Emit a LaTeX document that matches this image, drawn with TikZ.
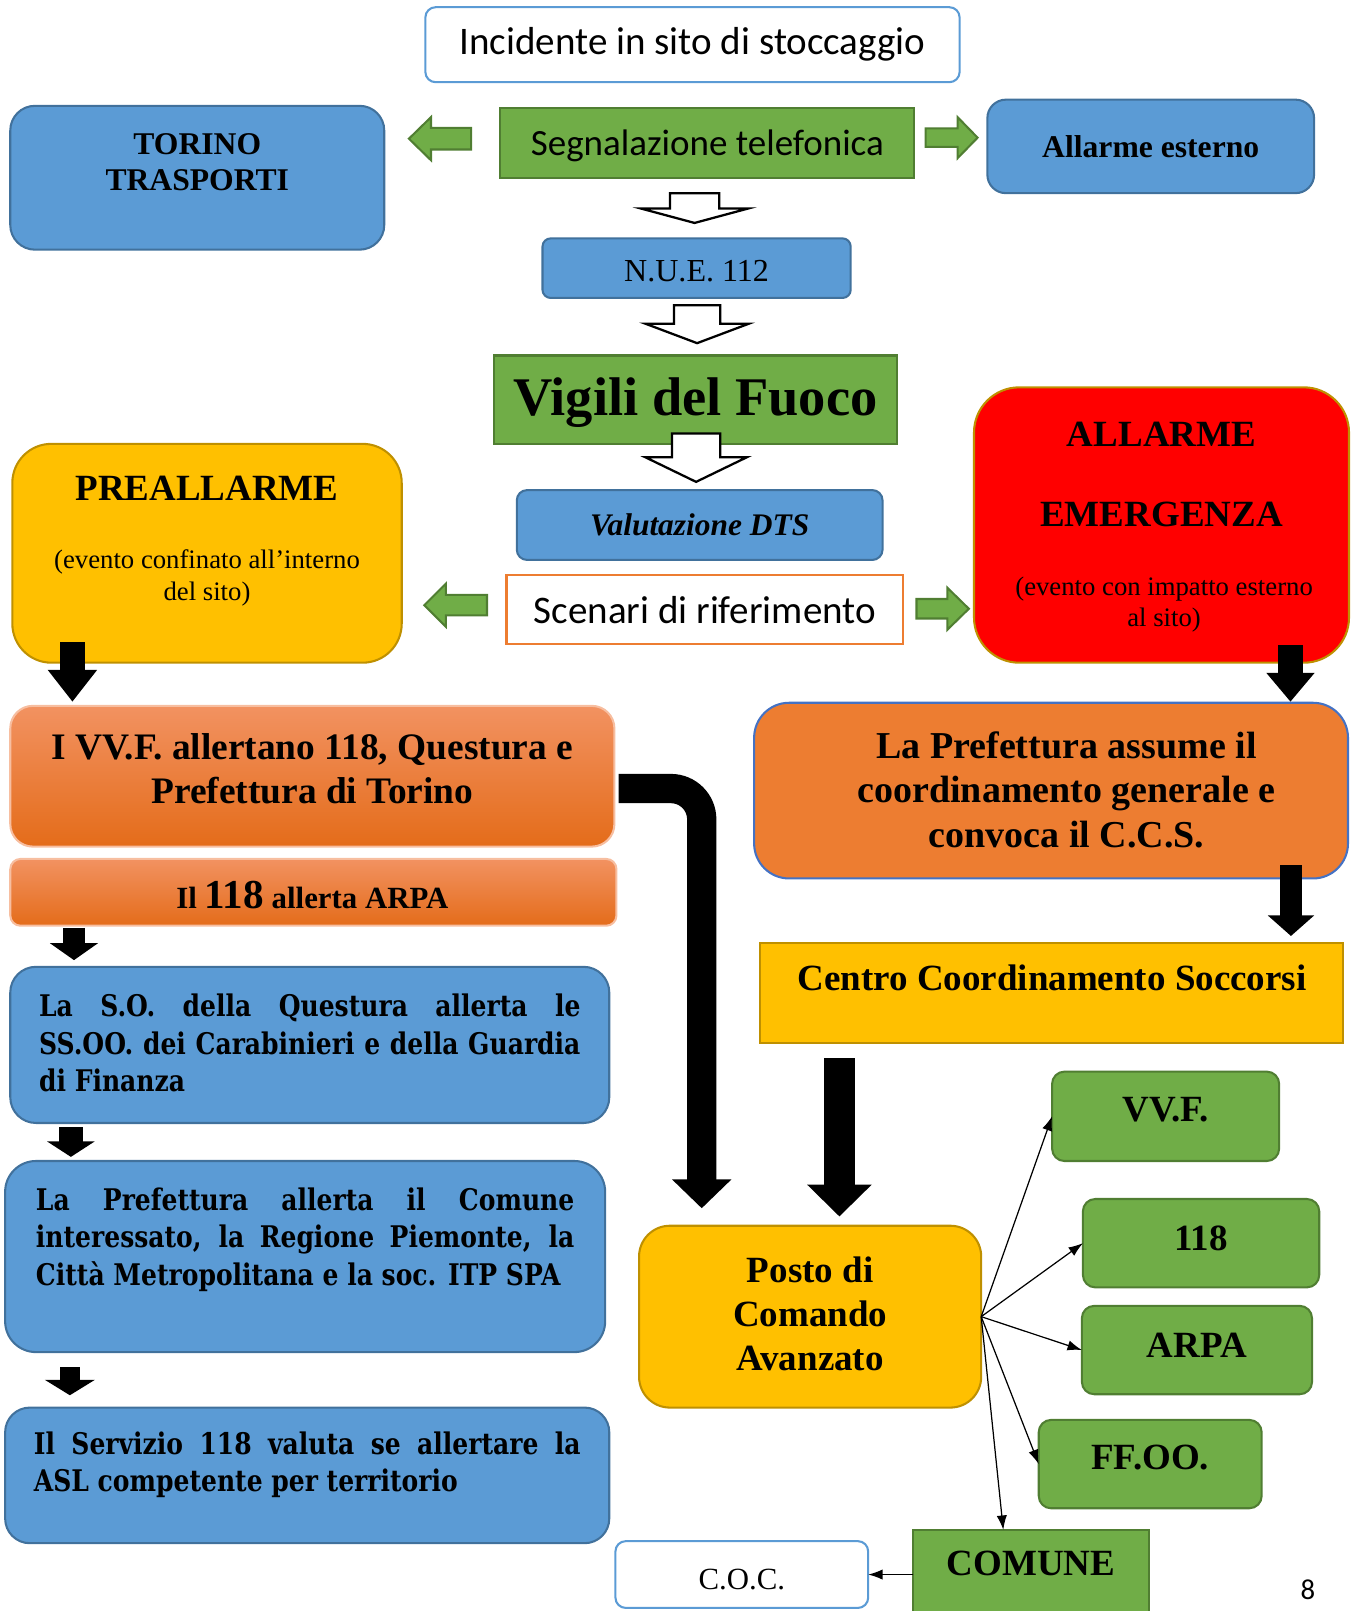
\documentclass[tikz,border=0pt]{standalone}
\usepackage{fontspec}
\setmainfont{Liberation Serif}
\newfontfamily\calfont{Carlito}
\newfontfamily\cmbfont[FakeStretch=0.84]{DejaVu Serif}
\usepackage{tikz}
\usetikzlibrary{calc}
\usetikzlibrary{arrows.meta}

\definecolor{bluefill}{HTML}{5B9BD5}
\definecolor{blueline}{HTML}{41719C}
\definecolor{greenfill}{HTML}{70AD47}
\definecolor{greenline}{HTML}{507E32}
\definecolor{yelfill}{HTML}{FFC000}
\definecolor{yelline}{HTML}{BF9000}
\definecolor{redfill}{HTML}{FF0000}
\definecolor{orgfill}{HTML}{ED7D31}
\definecolor{orgtop}{HTML}{F29261}
\definecolor{orgmid}{HTML}{F27C2A}
\definecolor{orgbot}{HTML}{E46C1A}
\definecolor{prefline}{HTML}{4472C4}

\begin{document}
\begin{tikzpicture}[x=0.5pt,y=-0.5pt,
    box/.style={inner sep=0pt,outer sep=0pt,line width=1pt},
    bbox/.style={box,draw=blueline,fill=bluefill,rounded corners=#1},
    grect/.style={box,draw=greenline,fill=greenfill},
    gbox/.style={grect,rounded corners=#1},
    ybox/.style={box,draw=yelline,fill=yelfill,rounded corners=#1},
    obox/.style={box,draw=orgtop!60!white,top color=orgtop,middle color=orgmid,bottom color=orgbot,rounded corners=#1},
    wbox/.style={box,draw=bluefill,fill=white,rounded corners=#1},
    tb/.style={font=\fontsize{#1}{21.5}\selectfont\bfseries},
    cb/.style={font=\cmbfont\fontsize{14.5}{18.25}\selectfont\bfseries,align=justify},
    thinarr/.style={line width=0.6pt,-{Latex[length=7pt,width=5pt]}},
    grarrow/.style={draw=greenline,fill=greenfill,line width=1pt},
    hollow/.style={draw=black,fill=white,line width=1.1pt,line join=miter}]
    \useasboundingbox (0,0) rectangle (1320,1568);

    \node[wbox=5pt,minimum width=260pt,minimum height=36.5pt,font=\calfont\fontsize{19}{22}\selectfont] (inc) at (674,43.5) {Incidente in sito di stoccaggio};
    \node[grect,minimum width=201.5pt,minimum height=34pt] (seg) at (688.5,139) {};
    \node[font=\calfont\fontsize{18}{21}\selectfont] (seg-t) at (688.5,142) {Segnalazione telefonica};
    \node[bbox=12pt,minimum width=182pt,minimum height=70pt] (tt) at (192,173) {};
    \node[font=\fontsize{15.4}{17.5}\selectfont\bfseries,align=center] (tt-t) at (192,157.5) {TORINO\\TRASPORTI};
    \node[bbox=9pt,minimum width=159pt,minimum height=45.5pt,font=\fontsize{15.4}{18}\selectfont\bfseries] (ae) at (1120,142.5) {Allarme esterno};
    \node[bbox=4pt,minimum width=150pt,minimum height=29pt] (nue) at (678,261) {};
    \node[font=\fontsize{15.6}{18}\selectfont] (nue-t) at (678,264) {N.U.E. 112};
    \node[grect,minimum width=196pt,minimum height=43pt] (vvf) at (677,389) {};
    \node[font=\fontsize{26.5}{30}\selectfont\bfseries] (vvf-t) at (677,392) {Vigili del Fuoco};
    \node[bbox=5pt,minimum width=178pt,minimum height=34pt,font=\fontsize{15.3}{18}\selectfont\bfseries\itshape] (dts) at (681,511) {Valutazione DTS};
    \node[box,draw=orgfill,fill=white,minimum width=193pt,minimum height=33.5pt,font=\calfont\fontsize{19}{22}\selectfont] (scen) at (686,593.5) {Scenari di riferimento};

    \node[ybox=19pt,minimum width=189.5pt,minimum height=106.5pt] (pre) at (201.5,538.5) {};
    \node[tb=18] (pre-t) at (201.5,475) {PREALLARME};
    \node[font=\fontsize{13}{15.5}\selectfont,align=center] (pre-s) at (201.5,562.5) {(evento confinato all’interno\\del sito)};
    \node[box,draw=yelline,fill=redfill,rounded corners=22pt,minimum width=182.5pt,minimum height=134pt] (all) at (1130.5,511) {};
    \node[tb=18] (all-t) at (1130.5,423) {ALLARME};
    \node[tb=18] (eme-t) at (1130.5,501) {EMERGENZA};
    \node[font=\fontsize{13}{15.5}\selectfont,align=center] (all-s) at (1133,588.5) {(evento con impatto esterno\\al sito)};

    \node[obox=11pt,minimum width=294pt,minimum height=68.5pt] (ivvf) at (304,755.5) {};
    \node[font=\fontsize{18.2}{21.5}\selectfont\bfseries,align=center] (ivvf-t) at (304,748.5) {I VV.F. allertano 118, Questura e\\Prefettura di Torino};
    \node[obox=5pt,minimum width=295pt,minimum height=32.5pt] (a118) at (305,868.5) {};
    \node[tb=15] (a118-t) at (304,871) {Il {\fontsize{20}{22}\selectfont 118} allerta ARPA};
    \node[bbox=12.5pt,minimum width=291.5pt,minimum height=76pt] (so) at (301.5,1017) {};
    \node[cb,text width=263.5pt] (so-t) at (301.5,1015.5) {La S.O. della Questura allerta le\linebreak SS.OO. dei Carabinieri e della Guardia\linebreak di Finanza};
    \node[bbox=15pt,minimum width=292pt,minimum height=93pt] (pref) at (297,1223) {};
    \node[cb,text width=262pt] (pref-t) at (297,1206.5) {La Prefettura allerta il Comune\linebreak interessato, la Regione Piemonte, la\linebreak Città Metropolitana e la soc. ITP SPA};
    \node[bbox=12pt,minimum width=294pt,minimum height=66pt] (serv) at (299,1436) {};
    \node[cb,text width=266pt] (serv-t) at (299,1425.5) {Il Servizio 118 valuta se allertare la\linebreak ASL competente per territorio};

    \node[box,draw=prefline,fill=orgfill,rounded corners=17pt,minimum width=289pt,minimum height=85.5pt] (pa) at (1023,769.5) {};
    \node[font=\fontsize{18.5}{21.75}\selectfont\bfseries,align=center] (pa-t) at (1038,768.5) {La Prefettura assume il\\coordinamento generale e\\convoca il C.C.S.};
    \node[box,draw=yelline,fill=yelfill,minimum width=283.5pt,minimum height=48.5pt] (ccs) at (1023.5,966.5) {};
    \node[tb=18] (ccs-t) at (1024,952) {Centro Coordinamento Soccorsi};
    \node[ybox=15pt,minimum width=166.5pt,minimum height=88.5pt] (pca) at (788.5,1281.5) {};
    \node[font=\fontsize{18}{21.5}\selectfont\bfseries,align=center] (pca-t) at (788.5,1279) {Posto di\\Comando\\Avanzato};

    \node[gbox=6pt,minimum width=110.5pt,minimum height=43.5pt] (gvvf) at (1134.5,1086.5) {};
    \node[tb=18] (gvvf-t) at (1134.5,1080) {VV.F.};
    \node[gbox=6pt,minimum width=115pt,minimum height=43pt] (g118) at (1169,1210) {};
    \node[tb=18] (g118-t) at (1169,1205) {118};
    \node[gbox=6pt,minimum width=112pt,minimum height=43pt] (garpa) at (1165,1314) {};
    \node[tb=18] (garpa-t) at (1165,1309) {ARPA};
    \node[gbox=6pt,minimum width=108.5pt,minimum height=43pt] (gffoo) at (1119.5,1425) {};
    \node[tb=18] (gffoo-t) at (1119.5,1419) {FF.OO.};
    \node[grect,minimum width=114.5pt,minimum height=45.5pt] (com) at (1003.5,1534.5) {};
    \node[tb=18] (com-t) at (1003.5,1522) {COMUNE};
    \node[wbox=5pt,minimum width=123pt,minimum height=32.5pt] (coc) at (722,1532.5) {};
    \node[font=\fontsize{15}{18}\selectfont] (coc-t) at (722,1537) {C.O.C.};
    \node[font=\calfont\fontsize{14}{16}\selectfont] (pg) at (1273,1547) {8};

    \draw[grarrow] (458.5,124.5) -- (419.5,124.5) -- (419.5,114) -- (398,135) -- (419.5,156) -- (419.5,145.5) -- (458.5,145.5) -- cycle;
    \draw[grarrow] (901,125) -- (932,125) -- (932,114) -- (951.5,134) -- (932,154) -- (932,143) -- (901,143) -- cycle;
    \draw[grarrow] (474,579) -- (434,579) -- (434,568) -- (413,589) -- (434,610) -- (434,599) -- (474,599) -- cycle;
    \draw[grarrow] (892,583) -- (922,583) -- (922,572) -- (943,592.5) -- (922,613) -- (922,602) -- (892,602) -- cycle;

    \draw[hollow] (652,188) -- (700,188) -- (700,203) -- (728,203) -- (676,217) -- (624,203) -- (652,203) -- cycle;
    \draw[hollow] (656,297) -- (701,297) -- (701,315) -- (729,315) -- (678.5,334) -- (628,315) -- (656,315) -- cycle;
    \draw[hollow] (654,422) -- (701,422) -- (701,445) -- (727,445) -- (677.5,469) -- (628,445) -- (654,445) -- cycle;

    \draw[line width=12.5pt,-{Triangle[length=15.5pt,width=23pt]}] ($(pre.south west)+(58.5,-20)$) -- ($(ivvf.north west)+(60.5,-4)$);
    \draw[line width=12pt,-{Triangle[length=14pt,width=22.5pt]}] ($(all.south)+(125.5,-17)$) -- ($(pa.north)+(233,-1)$);
    \draw[line width=10.5pt,-{Triangle[length=10pt,width=22pt]}] ($(pa.south)+(233.5,-13)$) -- ($(ccs.north)+(233,-7)$);
    \draw[line width=11pt,-{Triangle[length=8.25pt,width=23pt]}] ($(a118.south west)+(62,2)$) -- ($(so.north west)+(62,-6.5)$);
    \draw[line width=12pt,-{Triangle[length=7.5pt,width=22.75pt]}] ($(so.south west)+(59,4)$) -- ($(pref.north west)+(64,-4)$);
    \draw[line width=10pt,-{Triangle[length=7.5pt,width=24pt]}] ($(pref.south west)+(63,14.5)$) -- ($(serv.north west)+(63,-12)$);
    \draw[line width=14.25pt,rounded corners=15pt,-{Triangle[length=14pt,width=28pt]}] ($(ivvf.east)+(4,12)$) -| ($(pca.north)+(-105.5,-17)$);
    \draw[line width=15pt,-{Triangle[length=15.5pt,width=30.5pt]}] ($(ccs.south)+(-206.5,15)$) -- ($(pca.north)+(28.5,-9)$);

    \draw[thinarr] (pca.east) -- (gvvf.west);
    \draw[thinarr] (pca.east) -- (g118.west);
    \draw[thinarr] (pca.east) -- (garpa.west);
    \draw[thinarr] (pca.east) -- (gffoo.west);
    \draw[thinarr] (pca.east) -- ($(com.north)+(-27,0)$);
    \draw[thinarr] (coc.east -| com.west) -- (coc.east);
\end{tikzpicture}
\end{document}
